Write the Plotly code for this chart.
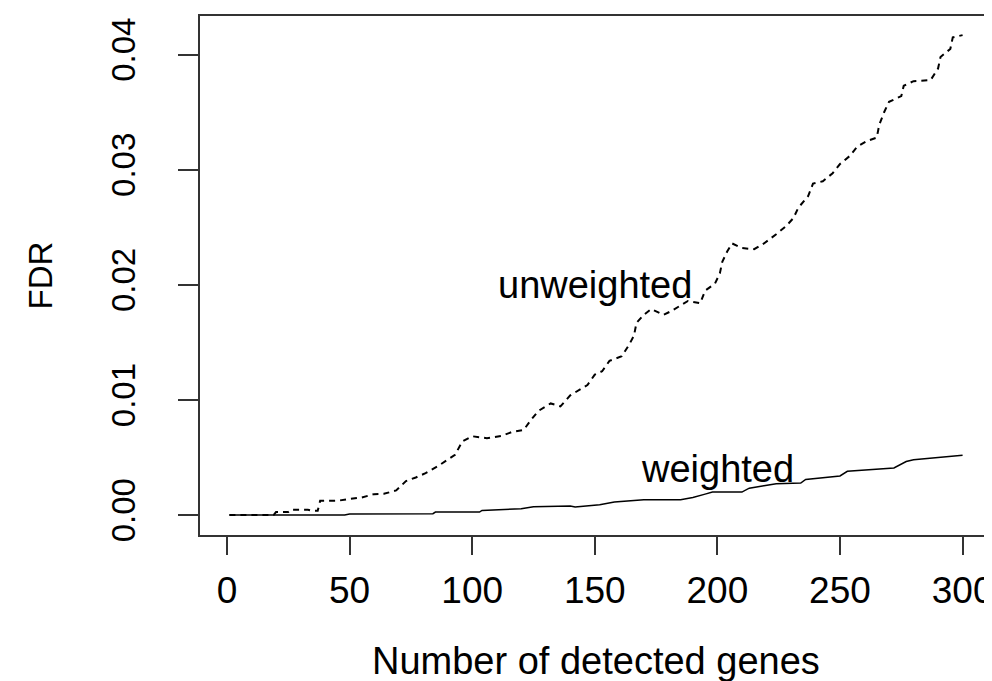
import plotly.graph_objects as go

# Number of detected genes (x) and FDR values
unweighted_x = [1, 19, 20, 25, 26, 33, 35, 37, 38, 45, 50, 55, 60, 64, 69, 73, 77, 81, 86, 90,
                93, 96, 100, 106, 112, 116, 121, 124, 127, 132, 136, 140, 143, 147, 150, 153,
                156, 161, 164, 166, 167, 170, 173, 178, 181, 186, 188, 193, 195, 199, 201, 202,
                204, 206, 210, 215, 219, 224, 228, 231, 233, 237, 239, 243, 247, 250, 254, 257,
                261, 265, 266, 268, 270, 275, 276, 280, 287, 290, 291, 295, 296, 300]
unweighted_fdr = [0, 0, 0.00026, 0.00026, 0.00046, 0.00046, 0.00037, 0.00037, 0.00124, 0.00124,
                  0.00141, 0.00153, 0.00182, 0.00185, 0.00214, 0.00295, 0.00327, 0.00364, 0.00425,
                  0.0048, 0.00523, 0.0064, 0.00685, 0.00668, 0.00688, 0.0072, 0.0074, 0.00827,
                  0.00905, 0.0097, 0.00945, 0.0104, 0.0108, 0.0113, 0.0122, 0.0125, 0.0134, 0.0138,
                  0.0148, 0.0156, 0.0167, 0.0174, 0.0179, 0.0174, 0.0177, 0.0183, 0.0186, 0.0184,
                  0.0195, 0.0201, 0.021, 0.022, 0.0229, 0.0236, 0.0232, 0.0231, 0.0236, 0.0244,
                  0.0251, 0.0258, 0.0267, 0.0277, 0.0288, 0.029, 0.0297, 0.0305, 0.0312, 0.032,
                  0.0325, 0.0328, 0.0339, 0.035, 0.0359, 0.0364, 0.0373, 0.0377, 0.0378, 0.0388,
                  0.0398, 0.0405, 0.0415, 0.0417]

weighted_x = [1, 48, 50, 84, 85, 103, 104, 112, 120, 125, 135, 140, 142, 152, 158, 170, 185,
              190, 195, 198, 210, 213, 219, 224, 234, 236, 250, 253, 272, 277, 280, 290, 300]
weighted_fdr = [0, 0, 0.0001, 0.00012, 0.00026, 0.00026, 0.0004, 0.0005, 0.00055, 0.00072,
                0.00075, 0.00078, 0.0007, 0.0009, 0.00113, 0.00133, 0.00133, 0.00153, 0.00182,
                0.002, 0.002, 0.00234, 0.00255, 0.00272, 0.00278, 0.0031, 0.0034, 0.0038,
                0.0041, 0.00465, 0.0048, 0.005, 0.0052]

x_ticks = [0, 50, 100, 150, 200, 250, 300]
y_ticks = [0.0, 0.01, 0.02, 0.03, 0.04]
y_tick_labels = ["0.00", "0.01", "0.02", "0.03", "0.04"]

FONT = "Liberation Sans, Arial, sans-serif"

fig = go.Figure()
fig.add_trace(go.Scatter(x=unweighted_x, y=unweighted_fdr, mode="lines",
                         line=dict(color="black", width=2, dash="6px,5px"),
                         name="unweighted", showlegend=False))
fig.add_trace(go.Scatter(x=weighted_x, y=weighted_fdr, mode="lines",
                         line=dict(color="black", width=1.5),
                         name="weighted", showlegend=False))

fig.add_annotation(x=150, y=0.02, text="unweighted", showarrow=False,
                   font=dict(family=FONT, size=38, color="black"))
fig.add_annotation(x=200, y=0.004, text="weighted", showarrow=False,
                   font=dict(family=FONT, size=38, color="black"))

# axis titles
fig.add_annotation(x=0.5, y=0, xref="paper", yref="paper", yanchor="middle",
                   yshift=-126, text="Number of detected genes", showarrow=False,
                   font=dict(family=FONT, size=38, color="black"))
fig.add_annotation(x=0, y=0.5, xref="paper", yref="paper", xanchor="center",
                   xshift=-160, text="FDR", textangle=-90, showarrow=False,
                   font=dict(family=FONT, size=33, color="black"))

fig.update_xaxes(range=[-11, 312], tickvals=x_ticks, ticks="outside", ticklen=18,
                 tickwidth=2, tickcolor="#333", showline=True, mirror=True,
                 linecolor="#333", linewidth=2, showgrid=False, zeroline=False,
                 tickfont=dict(family=FONT, size=37, color="black"),
                 ticklabelstandoff=4)
fig.update_yaxes(range=[-0.00173, 0.04336], tickvals=y_ticks, ticktext=y_tick_labels,
                 ticks="outside", ticklen=20, tickwidth=2, tickcolor="#333",
                 showline=True, mirror=True, linecolor="#333", linewidth=2,
                 showgrid=False, zeroline=False, tickangle=-90,
                 tickfont=dict(family=FONT, size=33, color="black"),
                 ticklabelstandoff=30)

fig.update_layout(width=992, height=681, margin=dict(l=192, r=6, t=7, b=154),
                  plot_bgcolor="white", paper_bgcolor="white")

fig.write_html("out.html")
